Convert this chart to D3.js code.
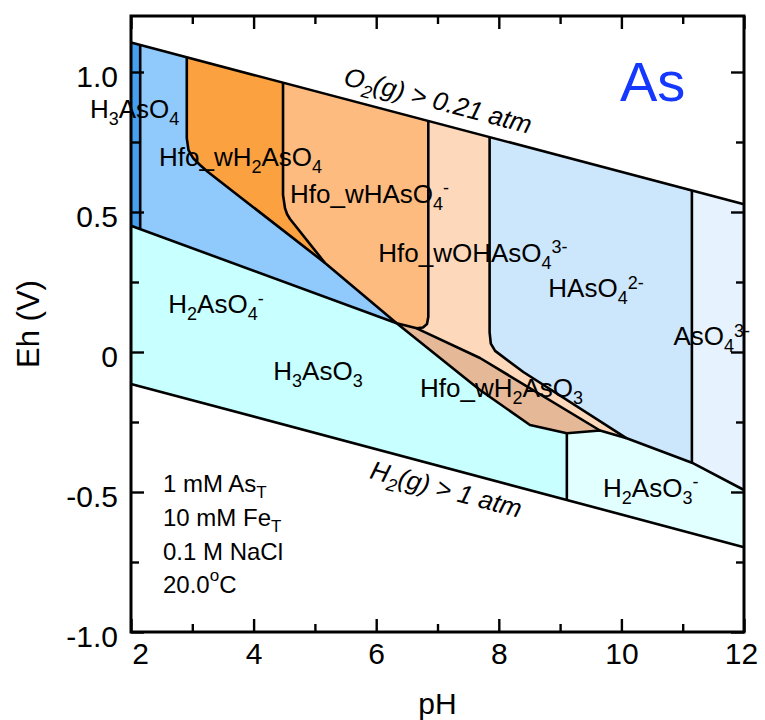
<!DOCTYPE html>
<html><head><meta charset="utf-8">
<script src="https://cdn.jsdelivr.net/npm/d3@7"></script>
<style>
body{margin:0;background:#fff;}
svg{display:block;font-family:"Liberation Sans",Arial,Helvetica,sans-serif;}
</style></head><body>
<svg id="chart" width="765" height="720"></svg>
<script>
// ---------- axis ticks ----------
const xTicksMajor = [2, 4, 6, 8, 10, 12];
const xTicksMinor = [3, 5, 7, 9, 11];
const yTicksMajor = [-1.0, -0.5, 0, 0.5, 1.0];
const yTickLabels = ["-1.0", "-0.5", "0", "0.5", "1.0"];
const yTicksMinor = [-0.75, -0.25, 0.25, 0.75];

// ---------- boundary lines [pH, Eh] ----------
const o2Line  = [[2, 1.105], [12, 0.528]];
const h2Line  = [[2, -0.114], [12, -0.697]];
const bH3AsO4 = [[2.15, 1.0963], [2.15, 0.439]];
const bAs5As3 = [[2, 0.451], [6.334, 0.1025]];
const bHfoLeft = [[2.91, 1.0525], [2.91, 0.764], [2.938, 0.721], [3.011, 0.693], [3.126, 0.668], [3.256, 0.643], [5.165, 0.318], [6.334, 0.1025]];
const bHfoMid  = [[4.48, 0.962], [4.48, 0.561], [4.512, 0.514], [4.545, 0.493], [4.594, 0.475], [5.165, 0.318]];
const bHfoRight = [[6.85, 0.8252], [6.85, 0.126], [6.829, 0.1], [6.763, 0.0875], [6.661, 0.0846], [6.334, 0.1025]];
const bBrownTop = [[6.661, 0.0846], [7.693, -0.0214], [9.651, -0.2804]];
const bBrownBottom = [[6.334, 0.1025], [7.693, -0.1357], [8.509, -0.2607], [9.11, -0.2904]];
const bAs3Top = [[9.11, -0.2904], [9.651, -0.2804], [10.087, -0.3082], [11.15, -0.3954], [12, -0.4929]];
const bPeachBlue = [[7.85, 0.7675], [7.85, 0.07], [7.87, 0.03], [7.94, 0.004], [8.4, -0.0714], [10.087, -0.3082]];
const bH3AsO3 = [[9.11, -0.2904], [9.11, -0.5285]];
const bAsO4 = [[11.15, 0.577], [11.15, -0.3954]];

// ---------- region labels ----------
const regionLabels = [
  { parts: [["H"], ["3", "sub"], ["AsO"], ["4", "sub"]], pH: 1.331, Eh: 0.835 },
  { parts: [["Hfo_wH"], ["2", "sub"], ["AsO"], ["4", "sub"]], pH: 2.457, Eh: 0.665 },
  { parts: [["Hfo_wHAsO"], ["4", "sub"], ["-", "sup"]], pH: 4.594, Eh: 0.533 },
  { parts: [["Hfo_wOHAsO"], ["4", "sub"], ["3-", "sup"]], pH: 6.034, Eh: 0.3225 },
  { parts: [["HAsO"], ["4", "sub"], ["2-", "sup"]], pH: 8.808, Eh: 0.1954 },
  { parts: [["AsO"], ["4", "sub"], ["3-", "sup"]], pH: 10.85, Eh: 0.025 },
  { parts: [["H"], ["2", "sub"], ["AsO"], ["4", "sub"], ["-", "sup"]], pH: 2.608, Eh: 0.138 },
  { parts: [["H"], ["3", "sub"], ["AsO"], ["3", "sub"]], pH: 4.321, Eh: -0.100 },
  { parts: [["Hfo_wH"], ["2", "sub"], ["AsO"], ["3", "sub"]], pH: 6.715, Eh: -0.1596 },
  { parts: [["H"], ["2", "sub"], ["AsO"], ["3", "sub"], ["-", "sup"]], pH: 9.70, Eh: -0.5168 }
];
const gasLabels = [
  { parts: [["O"], ["2", "sub"], ["(g) > 0.21 atm"]], line: o2Line, pH: 5.45, Eh: 0.955 },
  { parts: [["H"], ["2", "sub"], ["(g) > 1 atm"]], line: h2Line, pH: 5.88, Eh: -0.450 }
];
const conditionLines = [
  [["1 mM As"], ["T", "sub"]],
  [["10 mM Fe"], ["T", "sub"]],
  [["0.1 M NaCl"]],
  [["20.0"], ["o", "deg"], ["C"]]
];

// ---------- setup ----------
const svg = d3.select("#chart");
const x = d3.scaleLinear().domain([2, 12]).range([131, 744]);
const y = d3.scaleLinear().domain([-1.0, 1.2]).range([632, 16]);
const line = d3.line().x(d => x(d[0])).y(d => y(d[1]));

const P = bAs5As3[1];
const regions = [
  { name: "H3AsO4", color: "#45a0f0", pts: [o2Line[0], bH3AsO4[0], bH3AsO4[1], bAs5As3[0]] },
  { name: "H2AsO4-", color: "#90c9fc", pts: [bH3AsO4[0], ...bHfoLeft, bH3AsO4[1]] },
  { name: "Hfo_wH2AsO4", color: "#fba13f", pts: [...bHfoLeft.slice(0, 7), ...bHfoMid.slice().reverse()] },
  { name: "Hfo_wHAsO4-", color: "#fdbb7f", pts: [...bHfoMid, P, ...bHfoRight.slice().reverse()] },
  { name: "Hfo_wOHAsO4", color: "#fdd8bb", pts: [...bHfoRight.slice(0, 5), ...bBrownTop.slice(1), bAs3Top[2], ...bPeachBlue.slice().reverse()] },
  { name: "Hfo_wH2AsO3", color: "#e5b898", pts: [P, ...bBrownTop, ...bBrownBottom.slice().reverse()] },
  { name: "HAsO4--", color: "#cce6fc", pts: [...bPeachBlue, bAsO4[1], bAsO4[0]] },
  { name: "AsO4---", color: "#e6f2fd", pts: [bAsO4[0], o2Line[1], bAs3Top[4], bAsO4[1]] },
  { name: "H3AsO3", color: "#c8ffff", pts: [...bAs5As3, ...bBrownBottom.slice(1), bH3AsO3[1], h2Line[0]] },
  { name: "H2AsO3-", color: "#e2ffff", pts: [...bAs3Top, h2Line[1], bH3AsO3[1]] }
];

svg.append("g").selectAll("path").data(regions).join("path")
  .attr("d", d => line(d.pts) + "Z")
  .attr("fill", d => d.color)
  .attr("stroke", d => d.color)
  .attr("stroke-width", 0.8);

const boundaries = [o2Line, h2Line, bH3AsO4, bAs5As3, bHfoLeft, bHfoMid, bHfoRight, bBrownTop, bBrownBottom, bAs3Top, bPeachBlue, bH3AsO3, bAsO4];
svg.append("g").selectAll("path").data(boundaries).join("path")
  .attr("d", d => line(d))
  .attr("fill", "none")
  .attr("stroke", "#000")
  .attr("stroke-width", 2.6)
  .attr("stroke-linejoin", "round");

// ---------- rich text helper ----------
function richText(sel, parts, size, subSize) {
  let cur = 0;
  parts.forEach(p => {
    const type = p[1] || "";
    let target = 0, fs = size;
    if (type === "sub") { target = size * 0.27; fs = subSize; }
    else if (type === "sup") { target = -size * 0.32; fs = subSize; }
    else if (type === "deg") { target = -size * 0.5; fs = subSize; }
    sel.append("tspan").attr("dy", target - cur).attr("font-size", fs).text(p[0]);
    cur = target;
  });
}

// region labels
regionLabels.forEach(l => {
  const t = svg.append("text").attr("x", x(l.pH)).attr("y", y(l.Eh)).attr("font-size", 26).attr("fill", "#000");
  richText(t, l.parts, 26, 18);
});

// gas labels, rotated along the water-stability lines
gasLabels.forEach(l => {
  const ang = Math.atan2(y(l.line[1][1]) - y(l.line[0][1]), x(l.line[1][0]) - x(l.line[0][0])) * 180 / Math.PI;
  const t = svg.append("text")
    .attr("transform", `translate(${x(l.pH)},${y(l.Eh)}) rotate(${ang})`)
    .attr("font-size", 26).attr("font-style", "italic").attr("fill", "#000");
  richText(t, l.parts, 26, 18);
});

// conditions
conditionLines.forEach((parts, i) => {
  const t = svg.append("text").attr("x", 163).attr("y", 492 + i * 33.8).attr("font-size", 24).attr("fill", "#000");
  richText(t, parts, 24, 17);
});

// element label
svg.append("text").attr("x", 620).attr("y", 101).attr("font-size", 56).attr("fill", "#1538ff").text("As");

// ---------- axes ----------
function styleAxis(g) {
  g.select(".domain").remove();
  g.selectAll(".tick line").attr("stroke", "#000").attr("stroke-width", 2.4);
  g.selectAll(".tick text").attr("fill", "#000").attr("font-size", 30)
    .attr("font-family", '"Liberation Sans",Arial,Helvetica,sans-serif');
}
const gxB = svg.append("g").attr("transform", `translate(0,${y(-1.0)})`)
  .call(d3.axisBottom(x).tickValues(xTicksMajor).tickSizeInner(-13).tickSizeOuter(0).tickPadding(11).tickFormat(d3.format("d")))
  .call(styleAxis);
gxB.selectAll(".tick text").attr("dx", d => d === 2 ? 9 : (d === 12 ? -3 : 0));
svg.append("g").attr("transform", `translate(0,${y(-1.0)})`)
  .call(d3.axisBottom(x).tickValues(xTicksMinor).tickSizeInner(-8).tickSizeOuter(0).tickFormat(""))
  .call(styleAxis);
svg.append("g").attr("transform", `translate(0,${y(1.2)})`)
  .call(d3.axisTop(x).tickValues(xTicksMajor).tickSizeInner(-13).tickSizeOuter(0).tickFormat(""))
  .call(styleAxis);
svg.append("g").attr("transform", `translate(0,${y(1.2)})`)
  .call(d3.axisTop(x).tickValues(xTicksMinor).tickSizeInner(-8).tickSizeOuter(0).tickFormat(""))
  .call(styleAxis);

const gyL = svg.append("g").attr("transform", `translate(${x(2)},0)`)
  .call(d3.axisLeft(y).tickValues(yTicksMajor).tickSizeInner(-13).tickSizeOuter(0).tickPadding(13).tickFormat((d, i) => yTickLabels[i]))
  .call(styleAxis);
gyL.selectAll(".tick text").attr("dy", "0.48em");
svg.append("g").attr("transform", `translate(${x(2)},0)`)
  .call(d3.axisLeft(y).tickValues(yTicksMinor).tickSizeInner(-8).tickSizeOuter(0).tickFormat(""))
  .call(styleAxis);
svg.append("g").attr("transform", `translate(${x(12)},0)`)
  .call(d3.axisRight(y).tickValues(yTicksMajor).tickSizeInner(-13).tickSizeOuter(0).tickFormat(""))
  .call(styleAxis);
svg.append("g").attr("transform", `translate(${x(12)},0)`)
  .call(d3.axisRight(y).tickValues(yTicksMinor).tickSizeInner(-8).tickSizeOuter(0).tickFormat(""))
  .call(styleAxis);

// frame
svg.append("rect").attr("x", x(2)).attr("y", y(1.2))
  .attr("width", x(12) - x(2)).attr("height", y(-1.0) - y(1.2))
  .attr("fill", "none").attr("stroke", "#000").attr("stroke-width", 3);

// axis titles
svg.append("text").attr("x", (x(2) + x(12)) / 2).attr("y", 714).attr("text-anchor", "middle")
  .attr("font-size", 30).attr("fill", "#000").text("pH");
svg.append("text").attr("transform", `translate(38.5,${(y(1.2) + y(-1.0)) / 2}) rotate(-90)`)
  .attr("text-anchor", "middle").attr("font-size", 31).attr("fill", "#000").text("Eh (V)");
</script>
</body></html>
